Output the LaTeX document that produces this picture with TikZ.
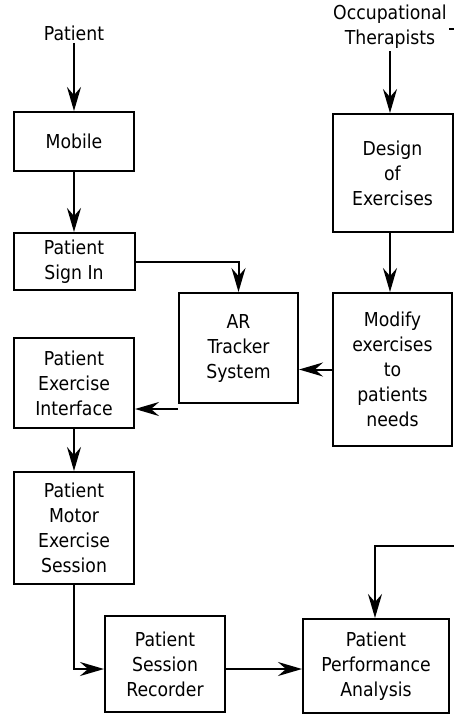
\documentclass[tikz,border=0pt]{standalone}
\usepackage{fontspec}
\setmainfont{DejaVu Sans Condensed}
\usepackage{tikz}
\usetikzlibrary{arrows.meta,calc,positioning}

\begin{document}
\begin{tikzpicture}[x=0.5pt,y=-0.5pt,
    font=\fontsize{9.6}{12.5}\selectfont,
    box/.style={draw, line width=1pt, align=center, inner sep=0pt},
    lbl/.style={align=center, inner sep=1pt},
    flow/.style={line width=1pt, -{Stealth[length=12pt,width=7pt,inset=4pt]}},
    link/.style={line width=1pt}]
        \useasboundingbox (0,0) rectangle (454,714);

        % patient side
        \node[lbl] (patient) at (74,33) {Patient};
        \node[box, minimum width=60pt, minimum height=29.5pt] (mobile) at (74,141.5) {Mobile};
        \node[box, minimum width=60.5pt, minimum height=28.5pt] (signin) at (74,261.5) {Patient\\Sign In};
        \node[box, minimum width=59.5pt, minimum height=55pt] (ar) at (238.5,348) {AR\\Tracker\\System};
        \node[box, minimum width=60pt, minimum height=45pt] (exint) at (74,383) {Patient\\Exercise\\Interface};
        \node[box, minimum width=60pt, minimum height=56pt] (motor) at (74,528) {Patient\\Motor\\Exercise\\Session};
        \node[box, minimum width=60pt, minimum height=48pt] (recorder) at (165,664) {Patient\\Session\\Recorder};
        \node[box, minimum width=73pt, minimum height=47pt] (analysis) at (376,666) {Patient\\Performance\\Analysis};

        % therapist side
        \node[lbl] (ot) at (390,27) {Occupational\\Therapists};
        \node[box, minimum width=60pt, minimum height=59pt] (design) at (392.5,173) {Design\\of\\Exercises};
        \node[box, minimum width=59.5pt, minimum height=76.5pt] (modify) at (392.5,369.5) {Modify\\exercises\\to\\patients\\needs};

        \coordinate (fb) at (454,546);
        \coordinate (tick) at (449,29);
        \coordinate (tickend) at (454,29);

        \draw[flow] (patient) -- (mobile);
        \draw[flow] (mobile) -- (signin);
        \draw[flow] (signin.east) -| (ar.north);
        \draw[flow] (ot.south) -- (ot.south |- design.north);
        \draw[flow] (design.south -| ot.south) -- (modify.north -| ot.south);
        \draw[flow] (modify.west) -- (ar.east |- modify.west);
        \draw[flow] ($(ar.south west)+(0,5)$) -- (exint.east |- {$(ar.south west)+(0,5)$});
        \draw[flow] (exint) -- (motor);
        \draw[flow] (motor.south) |- ($(recorder.west)+(0,5)$);
        \draw[flow] ($(recorder.east)+(0,5)$) -- ($(analysis.west)+(0,3)$);
        \draw[flow] (fb) -| ($(analysis.north)+(-1,0)$);
        \draw[link] (tick) -- (tickend);
\end{tikzpicture}
\end{document}
